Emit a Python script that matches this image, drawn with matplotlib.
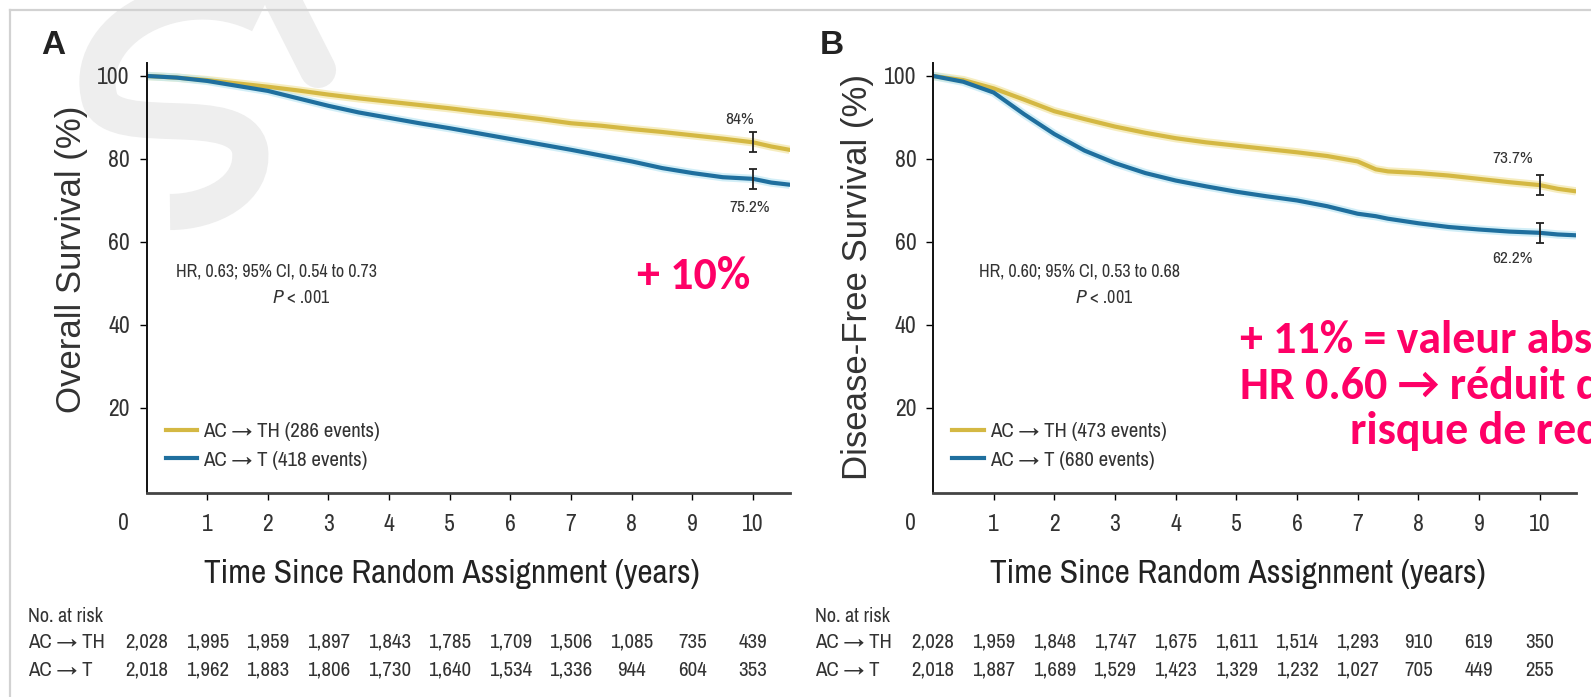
import matplotlib
matplotlib.use("Agg")
import matplotlib.pyplot as plt
from matplotlib import transforms
from matplotlib.path import Path
from matplotlib.patches import PathPatch

years = [0, 0.5, 1, 1.5, 2, 2.5, 3, 3.5, 4, 4.5, 5, 5.5, 6, 6.5, 7, 7.5, 8, 8.5, 9, 9.5, 10, 10.3, 10.6]

os_th = [100, 99.6, 99.0, 98.2, 97.4, 96.5, 95.5, 94.6, 93.8, 93.0, 92.2, 91.3, 90.5,
         89.6, 88.6, 88.0, 87.2, 86.5, 85.7, 84.9, 84.0, 83.0, 82.2]
os_t = [100, 99.6, 98.8, 97.6, 96.4, 94.6, 92.8, 91.2, 89.9, 88.6, 87.4, 86.1, 84.8,
        83.5, 82.2, 80.8, 79.4, 77.8, 76.6, 75.6, 75.2, 74.3, 73.8]

years_dfs = [0, 0.5, 1, 1.5, 2, 2.5, 3, 3.5, 4, 4.5, 5, 5.5, 6, 6.5, 7, 7.3, 7.5, 8, 8.5, 9, 9.5, 10, 10.3, 10.6]
dfs_th = [100, 99.0, 97.0, 94.3, 91.5, 89.6, 87.8, 86.3, 85.0, 84.0, 83.2, 82.4, 81.6,
          80.7, 79.4, 77.5, 77.0, 76.6, 76.0, 75.2, 74.4, 73.7, 72.8, 72.2]
dfs_t = [100, 98.6, 96.0, 90.8, 86.0, 82.0, 79.0, 76.6, 74.8, 73.4, 72.1, 71.0, 70.0,
         68.6, 66.8, 66.2, 65.6, 64.5, 63.6, 63.0, 62.5, 62.2, 61.8, 61.6]

# valeurs à 10 ans (± IC)
os_10y = [84.0, 75.2]
dfs_10y = [73.7, 62.2]
ci_half = 2.4

risk_years = list(range(11))
risk_os_th = ["2,028", "1,995", "1,959", "1,897", "1,843", "1,785", "1,709", "1,506", "1,085", "735", "439"]
risk_os_t = ["2,018", "1,962", "1,883", "1,806", "1,730", "1,640", "1,534", "1,336", "944", "604", "353"]
risk_dfs_th = ["2,028", "1,959", "1,848", "1,747", "1,675", "1,611", "1,514", "1,293", "910", "619", "350"]
risk_dfs_t = ["2,018", "1,887", "1,689", "1,529", "1,423", "1,329", "1,232", "1,027", "705", "449", "255"]

YELLOW = "#d4b843"
BLUE = "#1f6f9e"
PINK = "#fe0066"
TXT = "#333333"

NARROW = ["Archivo Narrow", "DejaVu Sans"]
SANS = ["Liberation Sans", "DejaVu Sans"]
PINK_FONT = ["Carlito", "DejaVu Sans"]

W, H = 1591, 697
fig = plt.figure(figsize=(W / 100, H / 100), dpi=100)
fig.patch.set_facecolor("white")


def fx(px):
    return px / W


def fy(py):
    return 1 - py / H


# cadre gris de la diapo + filigrane
fig.add_artist(plt.Line2D([fx(10), fx(10)], [fy(10), 0], color="#d2d2d2", lw=1.6,
                          transform=fig.transFigure))
fig.add_artist(plt.Line2D([fx(10), 1], [fy(10), fy(10)], color="#d2d2d2", lw=1.6,
                          transform=fig.transFigure))
wm = [(260, 15), (180, -25), (80, 30), (100, 100),
      (115, 140), (240, 100), (250, 150),
      (255, 190), (210, 212), (170, 212)]
codes = [Path.MOVETO] + [Path.CURVE4] * 9
wm_path = Path([(fx(x), fy(y)) for x, y in wm], codes)
fig.add_artist(PathPatch(wm_path, fill=False, lw=26, color="#eeeeee",
                         transform=fig.transFigure, zorder=0))
fig.add_artist(plt.Line2D([fx(280), fx(318)], [fy(-5), fy(70)], color="#eeeeee", lw=26,
                          solid_capstyle="round", transform=fig.transFigure, zorder=0))


def km_panel(left, x, th, t, at10, ylabel, ylab_y, hr_text, ev_th, ev_t, pct_pos):
    ax = fig.add_axes([fx(left), fy(493), 643 / W, (493 - 63.5) / H])
    ax.patch.set_alpha(0)
    ax.set_xlim(0, 10.6)
    ax.set_ylim(-0.5, 103)
    for s in ["top", "right"]:
        ax.spines[s].set_visible(False)
    ax.spines["left"].set_color("#111111")
    ax.spines["left"].set_linewidth(1.4)
    ax.spines["bottom"].set_color("#444444")
    ax.spines["bottom"].set_linewidth(2.0)

    # halo clair autour des courbes
    ax.plot(x, th, color="#f3e6a6", lw=6, alpha=0.7, solid_capstyle="butt")
    ax.plot(x, t, color="#bfe8f4", lw=6, alpha=0.7, solid_capstyle="butt")
    ax.plot(x, th, color=YELLOW, lw=3, label=f"AC \u2192 TH ({ev_th} events)")
    ax.plot(x, t, color=BLUE, lw=3, label=f"AC \u2192 T ({ev_t} events)")
    ax.errorbar([10, 10], at10, yerr=ci_half, fmt="none", ecolor="#222222",
                elinewidth=1.3, capsize=3, capthick=1.3)

    ax.set_yticks([20, 40, 60, 80, 100])
    ax.set_xticks(range(1, 11))
    ax.tick_params(axis="y", length=5, width=1, pad=7, labelsize=17, labelcolor=TXT)
    ax.tick_params(axis="x", length=5, width=1, pad=10, labelsize=17, labelcolor=TXT)
    for lab in ax.get_xticklabels() + ax.get_yticklabels():
        lab.set_family(NARROW)
    ax.text(-0.38, -7.8, "0", ha="center", va="center", fontsize=17, color=TXT,
            family=NARROW, clip_on=False)

    ax.text(pct_pos[0][0], pct_pos[0][1], f"{at10[0]:g}%", ha="center", va="center",
            fontsize=12.5, color=TXT, family=NARROW)
    ax.text(pct_pos[1][0], pct_pos[1][1], f"{at10[1]:g}%", ha="center", va="center",
            fontsize=12.5, color=TXT, family=NARROW)

    ax.text(hr_text[1], 52.8, hr_text[0], ha="center", va="center", fontsize=13,
            color=TXT, family=NARROW)
    ax.text(hr_text[1] + 0.4, 46.6, "$P$ < .001", ha="center", va="center", fontsize=13,
            color=TXT, family=NARROW)

    leg = ax.legend(loc="upper left", bbox_to_anchor=(0.03, 0.165), frameon=False,
                    borderpad=0, borderaxespad=0, handlelength=1.5, handletextpad=0.3,
                    labelspacing=0.45, prop={"family": NARROW, "size": 15})
    for txt in leg.get_texts():
        txt.set_color(TXT)

    fig.text(fx(left - 75), fy(ylab_y), ylabel, rotation=90, ha="center", va="center",
             fontsize=25, color=TXT, family=SANS)
    fig.text(fx(left + 305), fy(574), "Time Since Random Assignment (years)",
             ha="center", va="center", fontsize=24, color="#222222", family=NARROW)
    return ax


ax_a = km_panel(146.5, years, os_th, os_t, os_10y, "Overall Survival (%)", 259,
                ("HR, 0.63; 95% CI, 0.54 to 0.73", 2.15), 286, 418,
                [(9.78, 89.6), (9.95, 68.2)])
ax_b = km_panel(933, years_dfs, dfs_th, dfs_t, dfs_10y, "Disease-Free Survival (%)", 277,
                ("HR, 0.60; 95% CI, 0.53 to 0.68", 2.42), 473, 680,
                [(9.55, 80.2), (9.55, 56.0)])

fig.text(fx(41), fy(46), "A", ha="left", va="center", fontsize=24, fontweight="bold",
         color="#222222", family=SANS)
fig.text(fx(820), fy(46), "B", ha="left", va="center", fontsize=24, fontweight="bold",
         color="#222222", family=SANS)


def risk_table(ax, x0, row_th, row_t):
    tr = transforms.blended_transform_factory(ax.transData, fig.transFigure)
    fig.text(fx(x0), fy(616), "No. at risk", ha="left", va="center", fontsize=14.5,
             color=TXT, family=NARROW)
    fig.text(fx(x0), fy(642), "AC \u2192 TH", ha="left", va="center", fontsize=15,
             color=TXT, family=NARROW)
    fig.text(fx(x0), fy(670), "AC \u2192 T", ha="left", va="center", fontsize=15,
             color=TXT, family=NARROW)
    for yr, a, b in zip(risk_years, row_th, row_t):
        ax.text(yr, fy(642), a, transform=tr, ha="center", va="center", fontsize=15,
                color=TXT, family=NARROW, clip_on=False)
        ax.text(yr, fy(670), b, transform=tr, ha="center", va="center", fontsize=15,
                color=TXT, family=NARROW, clip_on=False)


risk_table(ax_a, 28, risk_os_th, risk_os_t)
risk_table(ax_b, 815, risk_dfs_th, risk_dfs_t)

# commentaires en rose
fig.text(fx(637), fy(276), "+ 10%", ha="left", va="center", fontsize=33,
         fontweight="bold", color=PINK, family=PINK_FONT)
fig.text(fx(1240), fy(340), "+ 11% = valeur absolue", ha="left", va="center",
         fontsize=33, fontweight="bold", color=PINK, family=PINK_FONT)
fig.text(fx(1240), fy(386), "HR 0.60 \u2192 réduit de 40% le", ha="left", va="center",
         fontsize=33, fontweight="bold", color=PINK, family=PINK_FONT)
fig.text(fx(1350), fy(431), "risque de rechute", ha="left", va="center",
         fontsize=33, fontweight="bold", color=PINK, family=PINK_FONT)

fig.savefig("out.png", dpi=100, facecolor="white")
